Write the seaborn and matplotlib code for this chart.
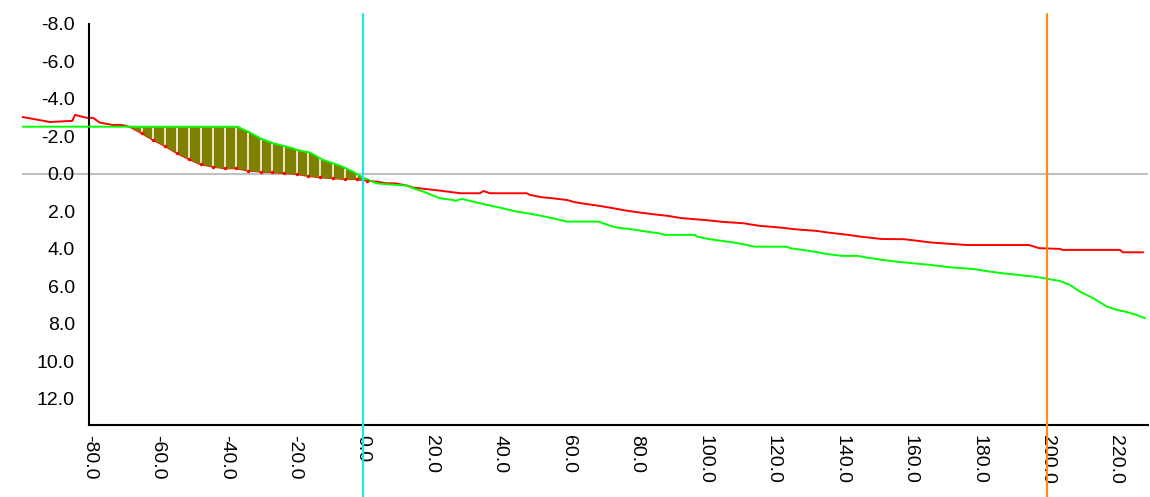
import numpy as np
import matplotlib
matplotlib.use("Agg")
import matplotlib.pyplot as plt
import seaborn as sns

# station (m) and elevation offset for the existing ground profile (red)
ground_x = [-99.7, -91.5, -85.0, -84.2, -80.7, -78.9, -77.0, -73.1, -70.5, -68.0,
            -64.7, -61.3, -57.9, -54.3, -50.8, -47.5, -44.0, -40.4, -37.0, -33.7,
            -29.8, -26.5, -23.1, -19.4, -16.0, -12.6, -8.7, -5.3, -1.8, 1.1,
            4.0, 6.9, 9.4, 12.8, 14.7, 18.1, 22.5, 28.4, 34.2, 35.2,
            37.1, 47.9, 48.8, 52.2, 55.6, 59.6, 62.0, 65.9, 69.3, 73.2,
            77.1, 81.0, 84.9, 89.3, 93.2, 99.5, 105.4, 111.2, 115.6, 122.0,
            126.3, 132.7, 136.1, 141.9, 145.3, 151.6, 158.0, 160.0, 166.3, 176.6,
            194.7, 197.7, 203.9, 204.4, 221.3, 222.2, 228.1]
ground_y = [-3.04, -2.77, -2.83, -3.15, -2.99, -2.99, -2.74, -2.61, -2.61, -2.50,
            -2.17, -1.81, -1.49, -1.10, -0.78, -0.52, -0.39, -0.30, -0.30, -0.18,
            -0.12, -0.09, -0.04, 0.00, 0.11, 0.18, 0.23, 0.27, 0.28, 0.36,
            0.41, 0.50, 0.50, 0.62, 0.73, 0.80, 0.89, 1.03, 1.03, 0.91,
            1.03, 1.03, 1.12, 1.24, 1.30, 1.39, 1.51, 1.62, 1.71, 1.83,
            1.96, 2.06, 2.15, 2.24, 2.36, 2.45, 2.56, 2.63, 2.76, 2.86,
            2.95, 3.04, 3.13, 3.25, 3.34, 3.47, 3.48, 3.52, 3.66, 3.79,
            3.79, 3.96, 4.00, 4.05, 4.05, 4.18, 4.18]

# design profile (green)
design_x = [-99.7, -36.8, -33.6, -29.8, -26.0, -20.5, -19.4, -15.5, -11.7, -8.8,
            -6.7, -2.9, 0.0, 4.0, 6.9, 12.8, 15.2, 17.6, 20.1, 22.5,
            26.4, 26.9, 28.9, 32.3, 36.2, 40.1, 44.9, 49.8, 54.7, 59.6,
            68.8, 72.2, 74.2, 78.6, 83.0, 86.4, 88.3, 97.1, 97.6, 101.0,
            104.4, 107.8, 111.2, 114.6, 123.9, 124.9, 128.3, 131.7, 135.6, 140.0,
            144.6, 147.3, 152.1, 156.0, 165.8, 171.6, 178.5, 183.3, 187.2, 193.1,
            196.5, 200.9, 203.8, 206.7, 209.6, 213.5, 217.5, 220.4, 222.8, 226.2,
            228.7]
design_y = [-2.52, -2.52, -2.26, -1.88, -1.62, -1.37, -1.28, -1.14, -0.75, -0.57,
            -0.44, -0.12, 0.20, 0.50, 0.55, 0.62, 0.80, 0.94, 1.12, 1.30,
            1.39, 1.44, 1.33, 1.48, 1.65, 1.80, 2.01, 2.15, 2.33, 2.54,
            2.54, 2.76, 2.86, 2.95, 3.08, 3.16, 3.25, 3.25, 3.34, 3.47,
            3.56, 3.64, 3.75, 3.88, 3.88, 3.96, 4.05, 4.14, 4.27, 4.37,
            4.37, 4.46, 4.59, 4.68, 4.85, 4.98, 5.07, 5.21, 5.30, 5.42,
            5.48, 5.62, 5.71, 5.92, 6.28, 6.63, 7.08, 7.25, 7.34, 7.52,
            7.70]

# stations where the hatch lines are drawn inside the cut area
hatch_x = [-64.7, -61.3, -57.9, -54.3, -50.8, -47.5, -44.0, -40.4, -37.0, -33.7,
           -29.8, -26.5, -23.1, -19.4, -16.0, -12.6, -8.7, -5.3, -1.8, 1.1]

x_ticks = list(range(-80, 221, 20))
y_ticks = list(range(-8, 13, 2))
centre_station = 0
marker_station = 200

sns.set_theme(style="white")
plt.rcParams["font.family"] = ["Liberation Sans", "DejaVu Sans"]

fig = plt.figure(figsize=(11.5, 4.97), dpi=100)
ax = fig.add_axes([22 / 1150, 1 - 425 / 497, 1126 / 1150, 411 / 497])

gx = np.array(ground_x)
gy = np.array(ground_y)
dx = np.array(design_x)
dy = np.array(design_y)

# zero line, kept under the tick labels
ax.axhline(0, color="#c0c0c0", lw=1.5, zorder=0.5)

sns.lineplot(x=gx, y=gy, color="#ff0000", lw=1.4, sort=False, estimator=None, ax=ax, zorder=2)

# cut area between the two profiles
xs = np.union1d(gx, dx)
g_on = np.interp(xs, gx, gy)
d_on = np.interp(xs, dx, dy)
ax.fill_between(xs, g_on, d_on, where=d_on < g_on, interpolate=True,
                color="#808000", lw=0, zorder=3)

hx = np.array(hatch_x)
h_low = np.interp(hx, gx, gy)
h_top = np.interp(hx, dx, dy)
ax.vlines(hx, h_top + 0.06, h_low, color="#f2efdc", lw=1.3, zorder=3.5)
ax.plot(hx, h_low, "o", color="#ff0000", ms=2.5, mew=0, zorder=4.5)

sns.lineplot(x=dx, y=dy, color="#00ff00", lw=1.4, sort=False, estimator=None, ax=ax, zorder=4)

ymin_ext = -(497 - 425) / 411
ax.axvline(centre_station, ymin=ymin_ext, ymax=1, color="#1ee6f0", lw=1.6,
           clip_on=False, zorder=6)
ax.axvline(marker_station, ymin=ymin_ext, ymax=1, color="#ff8c1a", lw=1.6,
           clip_on=False, zorder=6)

ax.set_xlim(-99.7, 229.5)
ax.set_ylim(13.39, -8.53)
ax.set_xticks(x_ticks)
ax.set_yticks(y_ticks)
ax.set_xticklabels([f"{v:.1f}" for v in x_ticks], rotation=-90)
ax.set_yticklabels([f"{v:.1f}" for v in y_ticks])

for side in ["top", "right"]:
    ax.spines[side].set_visible(False)
ax.spines["left"].set_position(("data", -80))
ax.spines["left"].set_bounds(-8, 13.39)
ax.spines["bottom"].set_bounds(-80, 229.5)
for side in ["left", "bottom"]:
    ax.spines[side].set_color("black")
    ax.spines[side].set_linewidth(1.5)

ax.tick_params(axis="both", direction="inout", length=5, width=1.5, color="black",
               labelsize=14, labelcolor="black")
ax.tick_params(axis="x", pad=5)
ax.tick_params(axis="y", pad=8)
ax.set_xlabel("")
ax.set_ylabel("")
ax.grid(False)

fig.savefig("out.png", dpi=100)
